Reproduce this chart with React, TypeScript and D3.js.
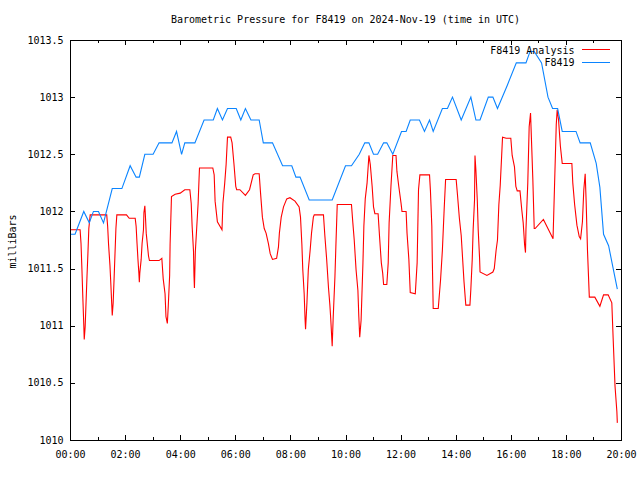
import React from "react";
import * as d3 from "d3";

const TITLE = "Barometric Pressure for F8419 on 2024-Nov-19 (time in UTC)";
const Y_LABEL = "milliBars";
const SERIES_NAMES = ["F8419 Analysis", "F8419"];
const SERIES_COLORS = ["#ff0000", "#0a84ff"];

// minutes since 00:00 UTC, value in millibars
const analysis: [number, number][] = [
  [2,1011.84],[22,1011.84],[24,1011.72],[26,1011.49],[28,1011.24],[30,1011.01],[31,1010.88],[33,1010.99],[35,1011.21],[37,1011.43],[39,1011.63],[41,1011.85],[44,1011.97],
  [80,1011.97],[82,1011.87],[84,1011.71],[87,1011.53],[89,1011.36],[91,1011.18],[92,1011.09],[94,1011.20],[96,1011.41],[98,1011.63],[100,1011.85],[102,1011.97],
  [123,1011.97],[129,1011.94],[142,1011.94],[144,1011.87],[146,1011.72],[148,1011.58],[150,1011.46],[151,1011.38],[152,1011.46],[155,1011.58],[157,1011.72],[160,1011.84],
  [161,1011.99],[163,1012.05],[164,1011.98],[166,1011.81],[169,1011.69],[171,1011.61],[173,1011.57],[194,1011.57],[200,1011.59],[203,1011.41],[207,1011.28],[209,1011.08],
  [212,1011.02],[214,1011.17],[217,1011.44],[218,1011.71],[221,1012.13],[229,1012.15],[240,1012.16],[250,1012.19],[261,1012.19],[264,1012.07],[266,1011.87],[269,1011.65],
  [270,1011.44],[271,1011.33],[273,1011.65],[276,1011.86],[279,1012.07],[281,1012.28],[282,1012.38],[311,1012.38],[314,1012.32],[316,1012.09],[321,1011.91],[331,1011.84],
  [333,1012.07],[337,1012.25],[340,1012.41],[343,1012.65],[350,1012.65],[353,1012.60],[357,1012.42],[361,1012.22],[363,1012.19],[370,1012.19],[382,1012.14],[391,1012.19],
  [399,1012.32],[403,1012.33],[412,1012.33],[415,1012.16],[419,1011.95],[423,1011.85],[427,1011.81],[432,1011.72],[436,1011.63],[441,1011.58],[450,1011.59],[454,1011.69],
  [456,1011.81],[460,1011.95],[465,1012.04],[472,1012.11],[479,1012.12],[490,1012.09],[499,1012.04],[502,1011.95],[505,1011.71],[507,1011.49],[510,1011.28],[512,1011.05],
  [513,1010.97],[516,1011.20],[519,1011.49],[523,1011.66],[526,1011.81],[530,1011.95],[532,1011.97],[552,1011.97],[555,1011.79],[559,1011.58],[563,1011.33],[566,1011.18],
  [568,1011.05],[571,1010.82],[573,1011.05],[577,1011.43],[579,1011.69],[582,1012.06],[613,1012.06],[616,1011.90],[619,1011.75],[623,1011.49],[627,1011.31],[629,1011.08],
  [631,1010.90],[634,1011.05],[638,1011.55],[640,1011.87],[643,1012.11],[647,1012.25],[651,1012.49],[654,1012.41],[658,1012.22],[661,1012.04],[664,1011.98],[671,1011.98],
  [674,1011.79],[678,1011.55],[681,1011.46],[683,1011.36],[690,1011.36],[693,1011.55],[695,1011.90],[699,1012.22],[703,1012.49],[710,1012.49],[712,1012.35],[716,1012.22],
  [721,1012.07],[723,1012.00],[732,1012.00],[734,1011.81],[738,1011.58],[741,1011.29],[752,1011.28],[756,1011.55],[759,1012.19],[762,1012.32],[783,1012.32],[785,1012.18],
  [788,1011.87],[789,1011.59],[791,1011.15],[802,1011.15],[804,1011.25],[807,1011.40],[811,1011.66],[815,1012.03],[818,1012.28],[822,1012.28],[841,1012.28],[844,1012.14],
  [848,1011.94],[852,1011.79],[855,1011.59],[858,1011.39],[862,1011.18],[871,1011.18],[873,1011.32],[876,1011.58],[878,1011.84],[881,1012.10],[882,1012.49],[884,1012.36],
  [887,1012.10],[889,1011.84],[892,1011.59],[893,1011.47],[908,1011.44],[921,1011.47],[924,1011.50],[928,1011.66],[931,1011.75],[934,1012.06],[937,1012.23],[940,1012.48],
  [942,1012.65],[950,1012.64],[960,1012.64],[963,1012.49],[968,1012.39],[971,1012.22],[974,1012.18],[980,1012.18],[984,1012.01],[987,1011.90],[990,1011.71],[992,1011.64],
  [993,1011.84],[997,1012.25],[1000,1012.74],[1003,1012.86],[1005,1012.63],[1008,1012.28],[1011,1011.85],[1013,1011.85],[1031,1011.93],[1052,1011.76],[1055,1012.19],
  [1059,1012.76],[1061,1012.89],[1064,1012.80],[1068,1012.57],[1072,1012.42],[1093,1012.42],[1095,1012.25],[1099,1012.06],[1104,1011.88],[1109,1011.78],[1112,1011.76],
  [1116,1011.91],[1119,1012.19],[1122,1012.33],[1124,1012.10],[1127,1011.66],[1131,1011.25],[1143,1011.25],[1154,1011.17],[1162,1011.27],[1172,1011.27],[1180,1011.20],
  [1183,1010.88],[1187,1010.47],[1191,1010.25],[1192,1010.15],
];

const station: [number, number][] = [
  [2,1011.8],[11,1011.8],[30,1012.0],[42,1011.9],[51,1012.0],[62,1012.0],[73,1011.9],[92,1012.2],[113,1012.2],[131,1012.4],[144,1012.3],[151,1012.3],
  [163,1012.5],[181,1012.5],[194,1012.6],[222,1012.6],[232,1012.7],[243,1012.5],[250,1012.6],[272,1012.6],[292,1012.8],[312,1012.8],[321,1012.9],[332,1012.8],
  [343,1012.9],[362,1012.9],[372,1012.8],[382,1012.9],[394,1012.8],[412,1012.8],[421,1012.6],[441,1012.6],[463,1012.4],[483,1012.4],[492,1012.3],[501,1012.3],
  [521,1012.1],[571,1012.1],[600,1012.4],[613,1012.4],[630,1012.5],[642,1012.6],[651,1012.6],[661,1012.5],[670,1012.5],[683,1012.6],[690,1012.6],[703,1012.5],
  [722,1012.7],[732,1012.7],[741,1012.8],[761,1012.8],[772,1012.7],[783,1012.8],[791,1012.7],[811,1012.9],[822,1012.9],[833,1013.0],[852,1012.8],[873,1013.0],
  [884,1012.8],[893,1012.8],[911,1013.0],[921,1013.0],[931,1012.9],[952,1013.1],[972,1013.3],[993,1013.3],[1002,1013.4],[1011,1013.4],[1027,1013.3],[1041,1013.0],
  [1051,1012.9],[1062,1012.9],[1072,1012.7],[1102,1012.7],[1111,1012.6],[1133,1012.6],[1146,1012.42],[1154,1012.21],[1162,1011.8],[1173,1011.7],[1183,1011.5],[1192,1011.32],
];

const xMajorHours = [0, 2, 4, 6, 8, 10, 12, 14, 16, 18, 20];
const xMinorHours = [1, 3, 5, 7, 9, 11, 13, 15, 17, 19];
const yTicks = [1010, 1010.5, 1011, 1011.5, 1012, 1012.5, 1013, 1013.5];

const FONT = "'DejaVu Sans Mono', 'Liberation Mono', monospace";

export default function App() {
  const left = 70, right = 621, top = 40, bottom = 440;
  const x = d3.scaleLinear().domain([0, 1200]).range([left, right]);
  const y = d3.scaleLinear().domain([1010, 1013.5]).range([bottom, top]);
  const line = d3.line<[number, number]>().x((d) => x(d[0])).y((d) => y(d[1]));
  const px = (v: number) => Math.round(v) + 0.5;
  const fmtHour = (h: number) => String(h).padStart(2, "0") + ":00";

  return (
    <svg width={640} height={480} style={{ position: "absolute", left: 0, top: 0, background: "#fff" }}>
      <rect x={0} y={0} width={640} height={480} fill="#fff" />
      <text x={345.5} y={23} textAnchor="middle" fontFamily={FONT} fontSize={10} fill="#000">{TITLE}</text>
      <text transform="translate(15.5,241.5) rotate(-90)" textAnchor="middle" fontFamily={FONT} fontSize={10} fill="#000">{Y_LABEL}</text>

      <g stroke="#000" strokeWidth={1} shapeRendering="crispEdges">
        {yTicks.map((t) => (
          <g key={"y" + t}>
            <line x1={left} x2={left + 5} y1={px(y(t))} y2={px(y(t))} />
            <line x1={right} x2={right - 5} y1={px(y(t))} y2={px(y(t))} />
          </g>
        ))}
        {xMajorHours.map((h) => (
          <g key={"xm" + h}>
            <line x1={px(x(h * 60))} x2={px(x(h * 60))} y1={bottom} y2={bottom - 5} />
            <line x1={px(x(h * 60))} x2={px(x(h * 60))} y1={top} y2={top + 5} />
          </g>
        ))}
        {xMinorHours.map((h) => (
          <g key={"xn" + h}>
            <line x1={px(x(h * 60))} x2={px(x(h * 60))} y1={bottom} y2={bottom - 3} />
            <line x1={px(x(h * 60))} x2={px(x(h * 60))} y1={top} y2={top + 3} />
          </g>
        ))}
        <rect x={left + 0.5} y={top + 0.5} width={right - left} height={bottom - top} fill="none" />
      </g>

      <g fontFamily={FONT} fontSize={10} fill="#000">
        {yTicks.map((t) => (
          <text key={"yl" + t} x={63.5} y={y(t) + 3.5} textAnchor="end">{String(t)}</text>
        ))}
        {xMajorHours.map((h) => (
          <text key={"xl" + h} x={x(h * 60) + 0.5} y={458} textAnchor="middle">{fmtHour(h)}</text>
        ))}
      </g>

      <path d={line(analysis) || ""} fill="none" stroke={SERIES_COLORS[0]} strokeWidth={1.1} />
      <path d={line(station) || ""} fill="none" stroke={SERIES_COLORS[1]} strokeWidth={1.1} />

      <g fontFamily={FONT} fontSize={10} fill="#000">
        <text x={574.5} y={53.5} textAnchor="end">{SERIES_NAMES[0]}</text>
        <text x={574.5} y={66} textAnchor="end">{SERIES_NAMES[1]}</text>
      </g>
      <line x1={582} x2={610} y1={49.5} y2={49.5} stroke={SERIES_COLORS[0]} strokeWidth={1} shapeRendering="crispEdges" />
      <line x1={582} x2={610} y1={62.5} y2={62.5} stroke={SERIES_COLORS[1]} strokeWidth={1} shapeRendering="crispEdges" />
    </svg>
  );
}
